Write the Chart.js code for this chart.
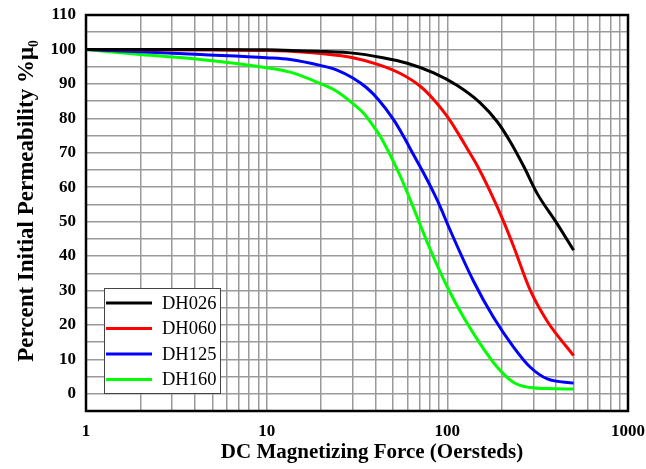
<!DOCTYPE html>
<html>
<head>
<meta charset="utf-8">
<script src="https://cdn.jsdelivr.net/npm/chart.js@4.4.0/dist/chart.umd.min.js"></script>
<style>
  html, body { margin: 0; padding: 0; background: #fff; }
  #wrap { width: 646px; height: 469px; }
</style>
</head>
<body>
<div id="wrap"><canvas id="perm" width="646" height="469"></canvas></div>
<script>
/* DC bias curves: percent of initial permeability vs. magnetizing force (Oe) */
var DH026_OE  = [1, 5, 10, 15, 29, 44, 60, 84, 113, 152, 189, 223, 265, 314, 404, 500];
var DH026_PCT = [100, 100, 99.9, 99.6, 99.0, 97.6, 96.0, 93.2, 89.6, 84.5, 79.0, 73.2, 66.0, 58.2, 49.5, 41.7];

var DH060_OE  = [1, 5, 10, 13.5, 20, 30, 41.6, 55, 70.8, 84.2, 99.6, 113, 128.5, 149, 172, 205, 233, 288, 358, 500];
var DH060_PCT = [100, 99.8, 99.7, 99.5, 98.8, 97.6, 95.6, 93.0, 89.3, 85.4, 80.6, 76.2, 71.3, 65.5, 58.9, 50.0, 42.7, 30.0, 21.0, 11.1];

var DH125_OE  = [1, 2, 4.3, 10, 13.5, 20, 24.5, 30, 35.9, 41.6, 50.4, 57.3, 65, 73.9, 84, 91.4, 101.7, 139, 180, 233, 288, 358, 500];
var DH125_PCT = [100, 99.3, 98.5, 97.6, 97.1, 95.3, 94.0, 91.7, 88.8, 85.4, 79.6, 74.7, 69.4, 64.1, 58.4, 54.3, 48.5, 32.9, 22.2, 13.5, 7.7, 4.3, 3.1];

var DH160_OE  = [1, 2, 4.3, 10, 13.5, 20, 24.5, 30, 34.4, 39.1, 42.5, 48.3, 55, 62, 80, 100, 123, 152, 189, 233, 288, 358, 500];
var DH160_PCT = [100, 98.5, 97.1, 94.7, 93.4, 90.0, 87.8, 84.3, 81.5, 77.6, 74.8, 69.3, 63.1, 56.6, 42.2, 31.0, 22.2, 14.5, 7.7, 3.3, 1.8, 1.5, 1.4];

var SERIES_NAMES = ["DH026", "DH060", "DH125", "DH160"];
var SERIES_COLORS = ["#000000", "#ff0000", "#0000ff", "#00ff00"];

/* log grid: 1..9 in each decade, labels only on the decades */
var X_GRID = [1, 2, 3, 4, 5, 6, 7, 8, 9, 10, 20, 30, 40, 50, 60, 70, 80, 90,
              100, 200, 300, 400, 500, 600, 700, 800, 900, 1000];
var X_LABELS = [1, 10, 100, 1000];

var Y_TITLE = "Percent Initial Permeability %\u03bc\u2080";
var X_TITLE = "DC Magnetizing Force (Oersteds)";

var serif = "'Liberation Serif','Times New Roman',serif";

function pts(xs, ys) {
  return xs.map(function(x, i) { return { x: x, y: ys[i] }; });
}

var allSeries = [
  pts(DH026_OE, DH026_PCT),
  pts(DH060_OE, DH060_PCT),
  pts(DH125_OE, DH125_PCT),
  pts(DH160_OE, DH160_PCT)
];

/* frame around the plot, boxed legend lower left, axis titles */
var framePlugin = {
  id: "frame",
  afterDraw: function(chart) {
    var a = chart.chartArea, ctx = chart.ctx;
    ctx.save();
    ctx.strokeStyle = "#000";
    ctx.lineWidth = 2.5;
    ctx.strokeRect(a.left, a.top, a.right - a.left, a.bottom - a.top);

    var bx = a.left + 18, by = a.bottom - 123, bw = 116, bh = 105;
    ctx.fillStyle = "#fff";
    ctx.fillRect(bx, by, bw, bh);
    ctx.strokeStyle = "#444";
    ctx.lineWidth = 1;
    ctx.strokeRect(bx + 0.5, by + 0.5, bw, bh);

    ctx.font = "18.5px " + serif;
    ctx.textBaseline = "middle";
    ctx.textAlign = "left";
    chart.data.datasets.forEach(function(ds, i) {
      var cy = by + 15 + i * 25.5;
      ctx.strokeStyle = ds.borderColor;
      ctx.lineWidth = 3;
      ctx.beginPath();
      ctx.moveTo(bx + 2, cy);
      ctx.lineTo(bx + 48, cy);
      ctx.stroke();
      ctx.fillStyle = "#000";
      ctx.fillText(ds.label, bx + 58, cy + 1);
    });

    ctx.textAlign = "center";
    ctx.font = "bold 21px " + serif;
    ctx.fillText(X_TITLE, 372, 453);

    ctx.translate(27, (a.top + a.bottom) / 2 - 12);
    ctx.rotate(-Math.PI / 2);
    ctx.font = "bold 23px " + serif;
    ctx.fillText(Y_TITLE, 0, 0);
    ctx.restore();
  }
};

new Chart(document.getElementById("perm").getContext("2d"), {
  type: "line",
  data: {
    datasets: allSeries.map(function(data, i) {
      return {
        label: SERIES_NAMES[i],
        data: data,
        borderColor: SERIES_COLORS[i],
        borderWidth: 3,
        pointRadius: 0,
        fill: false,
        cubicInterpolationMode: "monotone"
      };
    })
  },
  options: {
    responsive: false,
    animation: false,
    layout: { padding: { top: 15, right: 18, left: 0, bottom: 0 } },
    plugins: { legend: { display: false }, tooltip: { enabled: false } },
    scales: {
      x: {
        type: "logarithmic",
        min: 1, max: 1000,
        afterBuildTicks: function(s) {
          s.ticks = X_GRID.map(function(v) { return { value: v }; });
        },
        afterFit: function(s) { s.height = 58; s.paddingLeft = 0; s.paddingRight = 0; },
        grid: { color: "#9a9a9a", lineWidth: 1.5, drawTicks: false },
        border: { display: false },
        ticks: {
          autoSkip: false, maxRotation: 0, padding: 10, color: "#000",
          font: { family: serif, size: 17, weight: "bold" },
          callback: function(v) { return X_LABELS.indexOf(v) >= 0 ? String(v) : ""; }
        }
      },
      y: {
        min: -5, max: 110,
        afterFit: function(s) { s.width = 86; s.paddingTop = 0; s.paddingBottom = 0; },
        grid: { color: "#9a9a9a", lineWidth: 1.5, drawTicks: false },
        border: { display: false },
        ticks: {
          stepSize: 5, autoSkip: false, padding: 10, color: "#000",
          font: { family: serif, size: 17, weight: "bold" },
          callback: function(v) { return (v >= 0 && v % 10 === 0) ? String(v) : ""; }
        }
      }
    }
  },
  plugins: [framePlugin]
});
</script>
</body>
</html>
